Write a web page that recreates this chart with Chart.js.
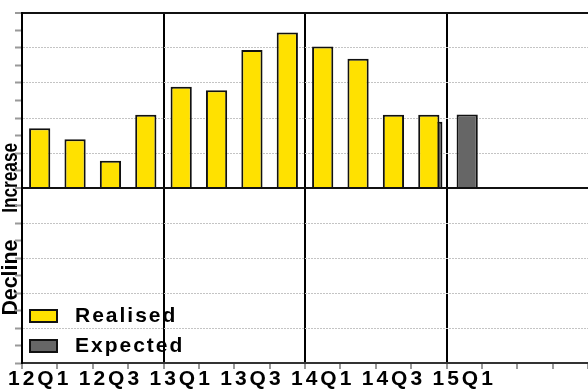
<!DOCTYPE html>
<html>
<head>
<meta charset="utf-8">
<script src="https://cdn.jsdelivr.net/npm/chart.js@4/dist/chart.umd.min.js"></script>
<style>
  html, body { margin: 0; padding: 0; background: #fff; }
  #wrap { width: 588px; height: 390px; position: relative; }
</style>
</head>
<body>
<div id="wrap"><canvas id="myChart"></canvas></div>
<script>
// quarters (categories)
const quarters = [
  "12Q1","12Q2","12Q3","12Q4","13Q1","13Q2","13Q3","13Q4",
  "14Q1","14Q2","14Q3","14Q4","15Q1","15Q2","15Q3","15Q4"
];
// only every other label is printed
const tickLabels = [
  "12Q1","","12Q3","","13Q1","","13Q3","",
  "14Q1","","14Q3","","15Q1","","",""
];
const realised = [1.71, 1.39, 0.78, 2.09, 2.89, 2.79, 3.94, 4.44, 4.04, 3.69, 2.09, 2.09, null, null, null, null];
const expected = [null, null, null, null, null, null, null, null, null, null, null, 1.89, 2.1, null, null, null];
const yearStarts = [4, 8, 12]; // index of 13Q1, 14Q1, 15Q1

const YELLOW = "#FFE100";
const GREY = "#666666";

// y axis titles + legend, drawn below the grid
const extras = {
  id: "extras",
  beforeDraw(chart) {
    const ctx = chart.ctx;
    const y = chart.scales.y;
    ctx.save();
    ctx.letterSpacing = "0px";
    ctx.fillStyle = "#000";
    ctx.textAlign = "center";
    ctx.textBaseline = "alphabetic";
    ctx.font = "bold 22px 'Liberation Sans Narrow', 'Liberation Sans', Arial, sans-serif";
    [["Increase", 0.29, 70], ["Decline", -2.56, 76]].forEach(([txt, v, w]) => {
      ctx.save();
      ctx.translate(17, y.getPixelForValue(v));
      ctx.rotate(-Math.PI / 2);
      ctx.fillText(txt, 0, 0, w);
      ctx.restore();
    });
    // legend
    const area = chart.chartArea;
    ctx.letterSpacing = "2px";
    ctx.textAlign = "left";
    ctx.textBaseline = "middle";
    ctx.font = "bold 21px 'Liberation Sans', Arial, sans-serif";
    chart.data.datasets.forEach((ds, i) => {
      const top = area.bottom - 53 + i * 30;
      ctx.fillStyle = ds.backgroundColor;
      ctx.strokeStyle = "#111";
      ctx.lineWidth = 2;
      ctx.fillRect(area.left + 8, top, 27, 12);
      ctx.strokeRect(area.left + 8, top, 27, 12);
      ctx.fillStyle = "#000";
      ctx.fillText(ds.label, area.left + 53, top + 6);
    });
    ctx.restore();
    ctx.letterSpacing = "3px";
  }
};

// expected bars sit slightly behind and to the right
const nudge = {
  id: "nudge",
  beforeDatasetDraw(chart, args) {
    if (args.index === 1) { chart.ctx.save(); chart.ctx.translate(3, 0); }
  },
  afterDatasetDraw(chart, args) {
    if (args.index === 1) chart.ctx.restore();
  }
};

new Chart(document.getElementById("myChart").getContext("2d"), {
  type: "bar",
  data: {
    labels: quarters,
    datasets: [
      { label: "Realised", data: realised, backgroundColor: YELLOW, borderColor: "#111", borderWidth: 2, order: 0 },
      { label: "Expected", data: expected, backgroundColor: GREY, borderColor: "#111", borderWidth: 2, order: 1 }
    ]
  },
  options: {
    responsive: true,
    maintainAspectRatio: false,
    animation: false,
    layout: { padding: { left: 15, top: 13, right: 0, bottom: 0 } },
    datasets: { bar: { grouped: false, categoryPercentage: 0.6, barPercentage: 1 } },
    plugins: { legend: { display: false }, tooltip: { enabled: false } },
    scales: {
      x: {
        grid: {
          offset: true,
          color: c => yearStarts.includes(c.index) ? "#000" : "rgba(0,0,0,0)",
          lineWidth: 2,
          tickLength: 6,
          tickColor: "#999",
          tickWidth: 2
        },
        border: { color: "#333", width: 2 },
        ticks: {
          autoSkip: false,
          maxRotation: 0,
          padding: 0,
          color: "#000",
          font: { family: "'Liberation Sans', Arial, sans-serif", size: 21, weight: "bold", lineHeight: 1 },
          callback: (v, i) => tickLabels[i]
        }
      },
      y: {
        min: -5,
        max: 5,
        ticks: { display: false, stepSize: 0.5 },
        grid: {
          color: c => {
            const v = c.tick ? c.tick.value : 1;
            if (v === 5 || v === 0) return "#111";
            return Number.isInteger(v) ? "#c4c4c4" : "rgba(0,0,0,0)";
          },
          lineWidth: c => {
            const v = c.tick ? c.tick.value : 1;
            return (v === 5 || v === 0) ? 2 : 1;
          },
          tickLength: 7,
          tickColor: "#999",
          tickWidth: 2
        },
        border: {
          color: "#000",
          width: 2,
          dash: c => {
            const v = c.tick ? c.tick.value : 5;
            return (v === 5 || v === 0) ? [] : [2, 1];
          }
        }
      }
    }
  },
  plugins: [extras, nudge]
});
</script>
</body>
</html>
